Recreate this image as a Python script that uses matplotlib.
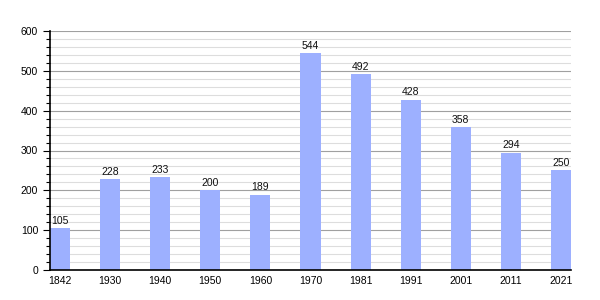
import matplotlib
matplotlib.use("Agg")
import matplotlib.pyplot as plt
from matplotlib.ticker import MultipleLocator

years = ["1842", "1930", "1940", "1950", "1960", "1970", "1981", "1991", "2001", "2011", "2021"]
population = [105, 228, 233, 200, 189, 544, 492, 428, 358, 294, 250]

plt.rcParams['font.family'] = ['Liberation Sans', 'DejaVu Sans']
fig = plt.figure(figsize=(6, 3), dpi=100)
ax = fig.add_axes([50/600, 30/300, 521/600, 239/300])

x = list(range(len(years)))
bars = ax.bar(x, population, width=0.4, color='#9db0ff', zorder=3)
for xi, v in zip(x, population):
    ax.text(xi, v + 6, str(v), ha='center', va='bottom', fontsize=7.5, color='#111111', zorder=4)

ax.set_xlim(-0.2, 10.2)
ax.set_ylim(0, 600)
ax.set_xticks(x)
ax.set_xticklabels(years, fontsize=7.5)
ax.yaxis.set_major_locator(MultipleLocator(100))
ax.yaxis.set_minor_locator(MultipleLocator(20))
ax.tick_params(axis='y', which='major', length=5, labelsize=7.5, width=0.8)
ax.tick_params(axis='y', which='minor', length=3, width=0.8)
ax.tick_params(axis='x', length=0, pad=4)
ax.grid(axis='y', which='major', color='#a0a0a0', linewidth=0.8, zorder=1)
ax.grid(axis='y', which='minor', color='#dddddd', linewidth=0.8, zorder=0)
for s in ['top', 'right']:
    ax.spines[s].set_visible(False)
for s in ['left', 'bottom']:
    ax.spines[s].set_linewidth(1.2)
    ax.spines[s].set_zorder(5)

fig.savefig("out.png", dpi=100)
